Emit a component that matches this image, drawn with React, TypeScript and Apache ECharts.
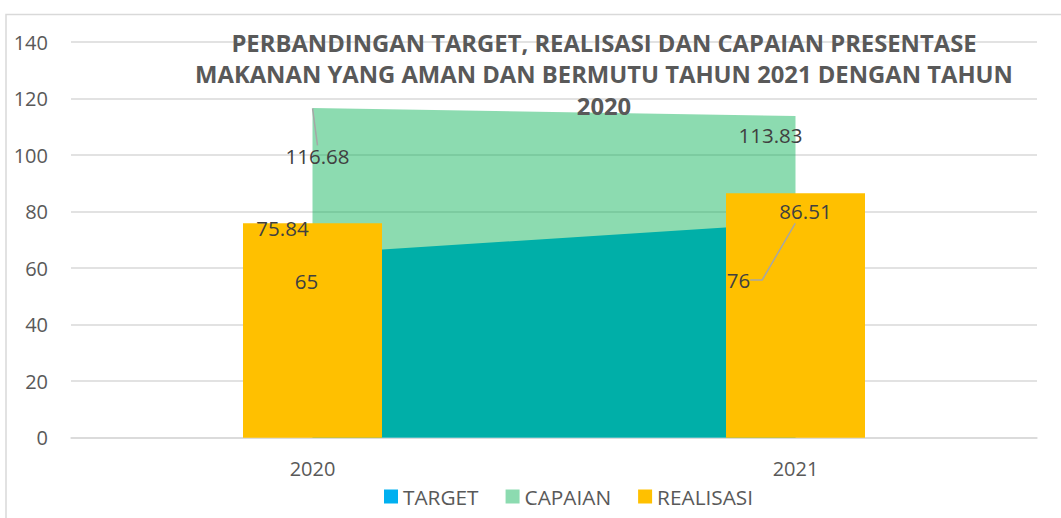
import React, { useEffect, useRef } from "react";
import * as echarts from "echarts";

const categories = ["2020", "2021"];
const targetValues = [65, 76];
const capaianValues = [116.68, 113.83];
const realisasiValues = [75.84, 86.51];
const yTicks = { min: 0, max: 140, interval: 20 };
const titleLines = [
  "PERBANDINGAN TARGET, REALISASI DAN CAPAIAN PRESENTASE",
  "MAKANAN YANG AMAN DAN BERMUTU TAHUN 2021 DENGAN TAHUN",
  "2020",
];

const FONT = "'Open Sans', 'Noto Sans', sans-serif";
const LABEL_COLOR = "#404040";
const AXIS_COLOR = "#595959";
const LEADER = { color: "#A6A6A6", width: 1.5 };

// label offsets (dx, dy) relative to the data point, per data index
const targetLabelShift = [
  { dx: -6, dy: 27, line: false, len2: 0 },
  { dx: -57, dy: 57, line: true, len2: 12 },
];
const capaianLabelShift = [
  { dx: 5, dy: 48, line: true, len2: 0 },
  { dx: -25, dy: 19, line: false, len2: 0 },
];
const realisasiLabelShift = [
  { dx: -30, dy: -13 },
  { dx: 10, dy: 0 },
];

export default function App() {
  const ref = useRef<HTMLDivElement>(null);

  useEffect(() => {
    document.body.style.margin = "0";
    if (!ref.current) return;
    const chart = echarts.init(ref.current, undefined, { renderer: "svg" });

    const labelBase = {
      show: true,
      color: LABEL_COLOR,
      fontFamily: FONT,
      fontSize: 20.5,
    };

    const withLines = (vals: number[], shifts: { line: boolean; len2: number }[]) =>
      vals.map((v, i) => ({
        value: v,
        labelLine: { show: shifts[i].line, length2: shifts[i].len2, lineStyle: LEADER },
      }));

    chart.setOption({
      animation: false,
      backgroundColor: "#ffffff",
      textStyle: { fontFamily: FONT },
      grid: { left: 71, right: 24, top: 42, bottom: 80.3, containLabel: false },
      legend: {
        bottom: 6,
        left: 379,
        itemWidth: 14,
        itemHeight: 14,
        itemGap: 27,
        icon: "rect",
        textStyle: { color: AXIS_COLOR, fontSize: 20.8, fontFamily: FONT },
        data: [
          { name: "TARGET", itemStyle: { color: "#00B0F0" } },
          { name: "CAPAIAN", itemStyle: { color: "#8CDBB0" } },
          { name: "REALISASI", itemStyle: { color: "#FFC000" } },
        ],
      },
      xAxis: {
        type: "category",
        data: categories,
        boundaryGap: true,
        axisLine: { show: true, lineStyle: { color: "#D9D9D9", width: 1.5 } },
        axisTick: { show: false },
        axisLabel: { color: AXIS_COLOR, fontSize: 20, margin: 21, fontFamily: FONT },
      },
      yAxis: {
        type: "value",
        min: yTicks.min,
        max: yTicks.max,
        interval: yTicks.interval,
        axisLine: { show: false },
        axisTick: { show: false },
        axisLabel: { color: AXIS_COLOR, fontSize: 20, margin: 23, align: "right", fontFamily: FONT },
        splitLine: { lineStyle: { color: "#D9D9D9", width: 1.5 } },
      },
      series: [
        {
          name: "TARGET",
          type: "line",
          data: targetValues,
          symbol: "none",
          lineStyle: { width: 0 },
          itemStyle: { color: "#00B0F0" },
          areaStyle: { color: "#00B0F0", opacity: 1 },
          z: 2,
        },
        {
          name: "CAPAIAN",
          type: "line",
          data: withLines(capaianValues, capaianLabelShift),
          symbol: "circle",
          symbolSize: 1,
          showSymbol: true,
          itemStyle: { color: "rgba(0,0,0,0)" },
          lineStyle: { width: 0 },
          areaStyle: { color: "#00B050", opacity: 0.45 },
          label: { ...labelBase, position: "inside" },
          labelLayout: (p: any) => ({
            dx: capaianLabelShift[p.dataIndex].dx,
            dy: capaianLabelShift[p.dataIndex].dy,
          }),
          z: 3,
        },
        {
          name: "REALISASI",
          type: "bar",
          data: realisasiValues,
          barWidth: 139,
          itemStyle: { color: "#FFC000" },
          label: {
            ...labelBase,
            position: "insideTop",
            distance: 7,
            formatter: (p: any) => String(p.value),
          },
          labelLayout: (p: any) => ({
            dx: realisasiLabelShift[p.dataIndex].dx,
            dy: realisasiLabelShift[p.dataIndex].dy,
          }),
          z: 4,
        },
        {
          // labels of TARGET drawn above the bars
          name: "TARGET",
          type: "line",
          data: withLines(targetValues, targetLabelShift),
          symbol: "circle",
          symbolSize: 1,
          showSymbol: true,
          itemStyle: { color: "rgba(0,0,0,0)" },
          lineStyle: { width: 0, opacity: 0 },
          label: { ...labelBase, position: "inside" },
          labelLayout: (p: any) => ({
            dx: targetLabelShift[p.dataIndex].dx,
            dy: targetLabelShift[p.dataIndex].dy,
          }),
          z: 10,
          silent: true,
        },
      ],
      graphic: [
        {
          type: "rect",
          silent: true,
          z: -10,
          shape: { x: 6, y: 14.5, width: 1100, height: 600 },
          style: { fill: "none", stroke: "#D9D9D9", lineWidth: 1.5 },
        },
        {
          type: "text",
          z: 100,
          x: 604,
          y: 27,
          style: {
            text: titleLines.join("\n"),
            align: "center",
            verticalAlign: "top",
            fill: AXIS_COLOR,
            font: `bold 23.8px ${FONT}`,
            lineHeight: 31.5,
          },
        },
      ],
    });

    return () => chart.dispose();
  }, []);

  return <div ref={ref} style={{ width: 1061, height: 518 }} />;
}
